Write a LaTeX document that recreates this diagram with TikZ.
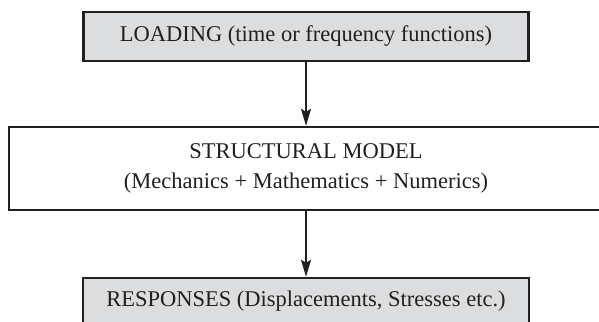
\documentclass[tikz,border=0pt]{standalone}
\usepackage{fontspec}
\setmainfont{Liberation Serif}
\usetikzlibrary{arrows.meta}
\definecolor{edge}{HTML}{231F20}
\definecolor{boxfill}{HTML}{DCDDDF}
\tikzset{
  box/.style={draw=edge, line width=2.4pt, inner sep=0pt, align=center,
    font=\fontsize{22.5}{30}\selectfont, text=edge},
  greybox/.style={box, fill=boxfill},
  flow/.style={draw=edge, line width=2pt, -{Stealth[length=17pt,width=10pt,inset=3pt]}}
}
\begin{document}
\begin{tikzpicture}[x=1pt,y=-1pt]
\path[use as bounding box, clip] (0,0) rectangle (599,321);
\node[greybox, minimum width=445pt, minimum height=49pt] (load) at (306,36.5)
  {LOADING (time or frequency functions)};
\node[box, minimum width=594pt, minimum height=83pt] (model) at (306,168.5)
  {STRUCTURAL MODEL\\(Mechanics + Mathematics + Numerics)};
\node[greybox, minimum width=446pt, minimum height=46pt] (resp) at (306,301)
  {RESPONSES (Displacements, Stresses etc.)};
\draw[flow] (load.south) -- (model.north);
\draw[flow] (model.south) -- (resp.north);
\end{tikzpicture}
\end{document}
